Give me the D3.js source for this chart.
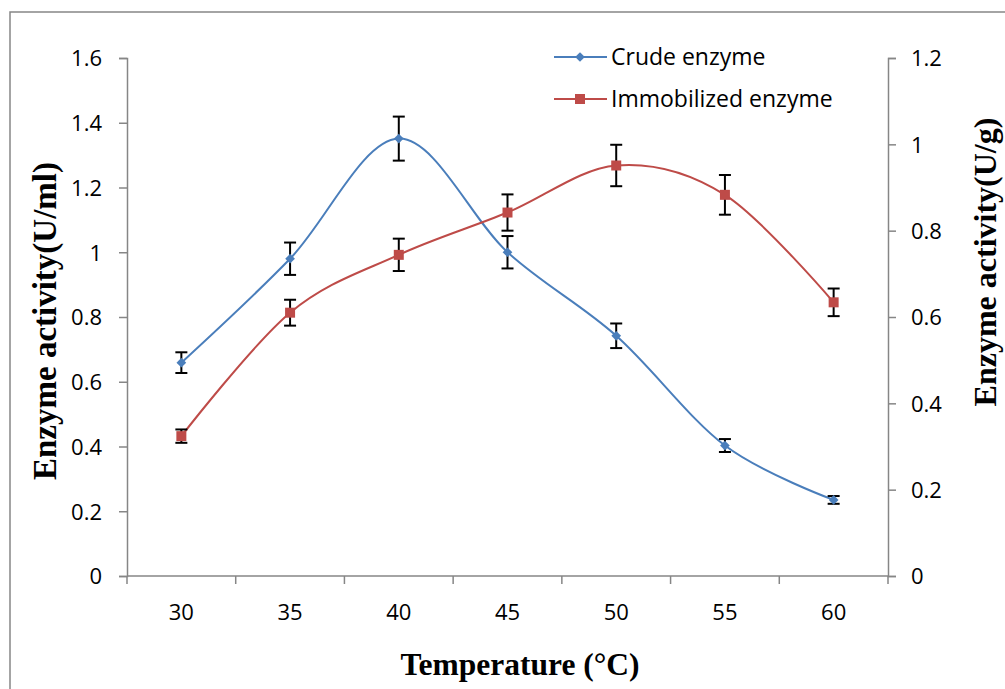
<!DOCTYPE html>
<html>
<head>
<meta charset="utf-8">
<script src="https://cdn.jsdelivr.net/npm/d3@7"></script>
<style>
  body { margin: 0; background: #fff; }
  .tick-label { font-family: "Open Sans", sans-serif; font-size: 22px; fill: #000; }
  .axis-title { font-family: "Liberation Serif", "Times New Roman", serif; font-weight: bold; font-size: 31.5px; fill: #000; }
  .y-title { font-size: 33px; }
  .y2-title { font-size: 32px; }
  .legend-label { font-family: "Open Sans", sans-serif; font-size: 23px; fill: #000; }
</style>
</head>
<body>
<svg></svg>
<script>
const width = 1005;
const height = 689;

const margin = { top: 58, right: 117, bottom: 113, left: 127 };

// data
const temperatures = ["30", "35", "40", "45", "50", "55", "60"];
const crude = [0.659, 0.98, 1.351, 1.0, 0.742, 0.403, 0.235];
const crudeErr = [0.032, 0.05, 0.068, 0.05, 0.038, 0.02, 0.012];
const immob = [0.324, 0.61, 0.744, 0.842, 0.951, 0.883, 0.634];
const immobErr = [0.0155, 0.03, 0.0375, 0.042, 0.048, 0.046, 0.032];
const leftTicks = [0, 0.2, 0.4, 0.6, 0.8, 1, 1.2, 1.4, 1.6];
const rightTicks = [0, 0.2, 0.4, 0.6, 0.8, 1, 1.2];

const blue = "#4a7ebb";
const red = "#be4b48";
const axisGrey = "#868686";

const svg = d3.select("svg").attr("width", width).attr("height", height);

// outer frame
svg.append("rect")
  .attr("x", 10).attr("y", 12)
  .attr("width", width + 20).attr("height", height + 20)
  .attr("fill", "none").attr("stroke", axisGrey).attr("stroke-width", 1.5);

//escala x
const x = d3.scaleBand()
  .domain(temperatures)
  .range([margin.left, width - margin.right]);

const yLeft = d3.scaleLinear().domain([0, 1.6]).range([height - margin.bottom, margin.top]);
const yRight = d3.scaleLinear().domain([0, 1.2]).range([height - margin.bottom, margin.top]);

const cx = d => x(d) + x.bandwidth() / 2;

// axes
function styleAxis(g) {
  g.select(".domain").attr("stroke", axisGrey).attr("stroke-width", 1.5);
  g.selectAll(".tick line").attr("stroke", axisGrey).attr("stroke-width", 1.5);
  g.selectAll(".tick text").attr("class", "tick-label").attr("fill", "#000");
}

//ejeX : ticks between categories
const xAxis = svg.append("g")
  .attr("transform", `translate(0,${height - margin.bottom})`);
xAxis.append("line")
  .attr("x1", margin.left).attr("x2", width - margin.right)
  .attr("stroke", axisGrey).attr("stroke-width", 1.5);
const bounds = temperatures.map(t => x(t)).concat([width - margin.right]);
xAxis.selectAll("line.tk").data(bounds).join("line")
  .attr("class", "tk")
  .attr("x1", d => d).attr("x2", d => d)
  .attr("y1", 0).attr("y2", 8)
  .attr("stroke", axisGrey).attr("stroke-width", 1.5);
xAxis.selectAll("text").data(temperatures).join("text")
  .attr("class", "tick-label")
  .attr("x", d => cx(d)).attr("y", 44)
  .attr("text-anchor", "middle")
  .text(d => d);

//ejeY izquierdo
svg.append("g")
  .attr("transform", `translate(${margin.left},0)`)
  .call(d3.axisLeft(yLeft).tickValues(leftTicks).tickSize(8).tickPadding(17).tickFormat(d3.format("~g")))
  .call(styleAxis);

//ejeY derecho
svg.append("g")
  .attr("transform", `translate(${width - margin.right},0)`)
  .call(d3.axisRight(yRight).tickValues(rightTicks).tickSize(8).tickPadding(15).tickFormat(d3.format("~g")))
  .call(styleAxis);

svg.selectAll(".tick text").attr("dy", "0.36em");

// lines
const curve = d3.curveCardinal.tension(0);
const lineL = d3.line().x((d, i) => cx(temperatures[i])).y(d => yLeft(d)).curve(curve);
const lineR = d3.line().x((d, i) => cx(temperatures[i])).y(d => yRight(d)).curve(curve);

svg.append("path").attr("d", lineL(crude))
  .attr("fill", "none").attr("stroke", blue).attr("stroke-width", 2);
svg.append("path").attr("d", lineR(immob))
  .attr("fill", "none").attr("stroke", red).attr("stroke-width", 2);

// error bars
function errorBars(vals, errs, y) {
  const g = svg.append("g").attr("stroke", "#000").attr("stroke-width", 2);
  vals.forEach((v, i) => {
    const px = cx(temperatures[i]);
    const top = y(v + errs[i]);
    const bot = y(v - errs[i]);
    g.append("line").attr("x1", px).attr("x2", px).attr("y1", top).attr("y2", bot);
    g.append("line").attr("x1", px - 6).attr("x2", px + 6).attr("y1", top).attr("y2", top);
    g.append("line").attr("x1", px - 6).attr("x2", px + 6).attr("y1", bot).attr("y2", bot);
  });
}
errorBars(crude, crudeErr, yLeft);
errorBars(immob, immobErr, yRight);

// markers
const diamond = d3.symbol().type(d3.symbolDiamond2).size(60);
const square = d3.symbol().type(d3.symbolSquare).size(100);

svg.append("g").selectAll("path").data(crude).join("path")
  .attr("d", diamond)
  .attr("transform", (d, i) => `translate(${cx(temperatures[i])},${yLeft(d)})`)
  .attr("fill", blue);

svg.append("g").selectAll("path").data(immob).join("path")
  .attr("d", square)
  .attr("transform", (d, i) => `translate(${cx(temperatures[i])},${yRight(d)})`)
  .attr("fill", red);

// legend
const legend = [
  { name: "Crude enzyme", color: blue, sym: diamond, y: 57 },
  { name: "Immobilized enzyme", color: red, sym: square, y: 99 }
];
const lg = svg.append("g");
legend.forEach(l => {
  lg.append("line").attr("x1", 554).attr("x2", 607).attr("y1", l.y).attr("y2", l.y)
    .attr("stroke", l.color).attr("stroke-width", 2);
  lg.append("path").attr("d", l.sym).attr("transform", `translate(580,${l.y})`).attr("fill", l.color);
  lg.append("text").attr("class", "legend-label").attr("x", 611).attr("y", l.y).attr("dy", "0.36em").text(l.name);
});

//etiqueta x
svg.append("text")
  .attr("class", "axis-title")
  .attr("x", 520).attr("y", 675)
  .attr("text-anchor", "middle")
  .text("Temperature (°C)");

//etiqueta y
svg.append("text")
  .attr("class", "axis-title y-title")
  .attr("transform", "rotate(-90)")
  .attr("x", -321).attr("y", 56)
  .attr("text-anchor", "middle")
  .text("Enzyme activity(U/ml)");

svg.append("text")
  .attr("class", "axis-title y2-title")
  .attr("transform", "rotate(-90)")
  .attr("x", -262).attr("y", 996)
  .attr("text-anchor", "middle")
  .text("Enzyme activity(U/g)");
</script>
</body>
</html>
